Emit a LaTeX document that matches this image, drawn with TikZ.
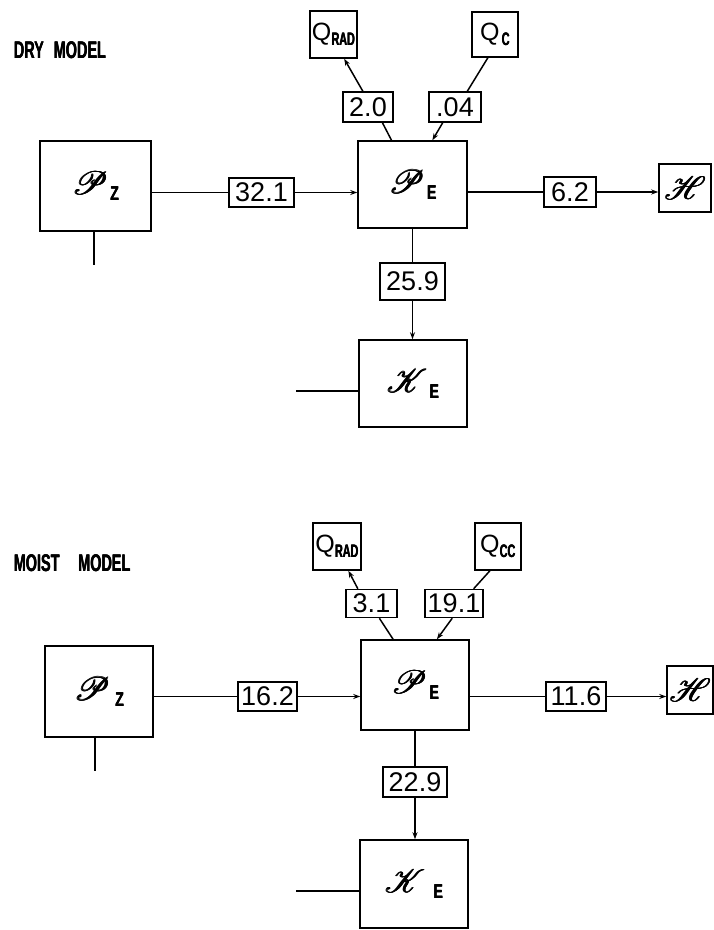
\documentclass[tikz,border=0pt]{standalone}
\usepackage{fontspec}
\setmainfont{Liberation Sans}
\usepackage{mathrsfs}
\usetikzlibrary{calc,arrows.meta}
\newcommand{\fb}[1]{\rlap{#1}\hspace{0.4pt}\rlap{#1}\hspace{0.4pt}\rlap{\raisebox{0.4pt}{#1}}#1}
\newcommand{\fbs}[1]{\rlap{#1}\hspace{0.4pt}\rlap{#1}\hspace{0.4pt}#1}
\newcommand{\mysub}[1]{\hspace{2pt}\raisebox{-6pt}{\scalebox{0.7}[1]{\fontsize{20}{20}\selectfont\bfseries\fbs{#1}}}}
\newcommand{\qsub}[1]{\raisebox{-5pt}{\scalebox{0.6}[1]{\fontsize{18}{18}\selectfont\bfseries\fbs{#1}}}}
\newcommand{\myscr}[1]{\scalebox{1.3}{\fontsize{24.88}{25}\selectfont\fb{$\mathscr{#1}$}}}
\newcommand{\myQ}{{\fontsize{25}{25}\selectfont Q}}
\begin{document}
\begin{tikzpicture}[x=1pt,y=-1pt,line width=1.5pt,
  >={Stealth[length=7pt,width=5pt]},
  bx/.style 2 args={draw,line width=1.5pt,inner sep=0pt,minimum width=#1,minimum height=#2},
  num/.style={font=\fontsize{27}{27}\selectfont},
  ttl/.style={anchor=west,inner sep=0pt}]
\useasboundingbox (0,0) rectangle (714,930);
% ---------------- DRY MODEL ----------------
\node[ttl] (t1) at (13,50.5) {\scalebox{0.6}[1]{\fontsize{24}{24}\selectfont\bfseries\fbs{DRY\hspace{0.7em}MODEL}}};
\node[bx={47}{47}] (QRAD1) at (333.5,34.5) {\myQ\qsub{RAD}};
\node[bx={46}{45}] (QC1) at (495,34.5) {\myQ\hspace{2pt}\qsub{C}};
\node[bx={50}{30},num] (n20) at (368,107) {2.0};
\node[bx={52}{30},num] (n04) at (455,107) {.04};
\node[bx={109}{87}] (PE1) at (412.5,184.5) {\myscr{P}\mysub{E}};
\node[bx={111}{90}] (PZ1) at (95.5,186) {\myscr{P}\mysub{Z}};
\node[bx={65}{29},num] (n321) at (261.5,192.5) {32.1};
\node[bx={52}{30},num] (n62) at (570,192) {6.2};
\node[bx={52}{48}] (H1) at (685,188) {\myscr{H}};
\node[bx={65}{37},num] (n259) at (412.5,281.5) {25.9};
\node[bx={108}{87}] (KE1) at (413,383.5) {\myscr{K}\mysub{E}};
\coordinate (z1) at (94,265);
\coordinate (k1) at (296,391);
\draw ($(PE1.north west)!0.31!(PE1.north east)$) -- ($(n20.south west)!0.78!(n20.south east)$);
\draw[->] ($(n20.north west)!0.4!(n20.north east)$) -- ($(QRAD1.south west)!0.72!(QRAD1.south east)$);
\draw ($(QC1.south west)!0.35!(QC1.south east)$) -- ($(n04.north west)!0.73!(n04.north east)$);
\draw[->] ($(n04.south west)!0.27!(n04.south east)$) -- ($(PE1.north west)!0.68!(PE1.north east)$);
\draw (n321.west -| PZ1.east) -- (n321.west);
\draw[->] (n321.east) -- (n321.east -| PE1.west);
\draw (n62.west -| PE1.east) -- (n62.west);
\draw[->] (n62.east) -- (n62.east -| H1.west);
\draw (PE1.south -| n259.north) -- (n259.north);
\draw[->] (n259.south) -- (n259.south |- KE1.north);
\draw (z1 |- PZ1.south) -- (z1);
\draw (k1) -- (k1 -| KE1.west);
% ---------------- MOIST MODEL ----------------
\node[ttl] (t2) at (13,563.5) {\scalebox{0.6}[1]{\fontsize{24}{24}\selectfont\bfseries\fbs{MOIST\hspace{1.3em}MODEL}}};
\node[bx={48}{47}] (QRAD2) at (337,546.5) {\myQ\qsub{RAD}};
\node[bx={46}{47}] (QCC2) at (498,546.5) {\myQ\qsub{CC}};
\node[bx={51}{28},num] (n31) at (371.5,603.5) {3.1};
\node[bx={58}{28},num] (n191) at (454,603.5) {19.1};
\node[bx={108}{90}] (PE2) at (415,685) {\myscr{P}\mysub{E}};
\node[bx={108}{91}] (PZ2) at (99,691.5) {\myscr{P}\hspace{3pt}\mysub{Z}};
\node[bx={59}{29},num] (n162) at (267.5,696.5) {16.2};
\node[bx={60}{29},num] (n116) at (576,696.5) {11.6};
\node[bx={46}{48}] (H2) at (690,690) {\myscr{H}};
\node[bx={64}{30},num] (n229) at (415,782) {22.9};
\node[bx={108}{88}] (KE2) at (414,884) {\myscr{K}\hspace{6pt}\mysub{E}};
\coordinate (z2) at (95,771);
\coordinate (k2) at (296,891);
\draw ($(PE2.north west)!0.30!(PE2.north east)$) -- ($(n31.south west)!0.65!(n31.south east)$);
\draw[->] ($(n31.north west)!0.24!(n31.north east)$) -- ($(QRAD2.south west)!0.73!(QRAD2.south east)$);
\draw ($(QCC2.south west)!0.33!(QCC2.south east)$) -- ($(n191.north west)!0.83!(n191.north east)$);
\draw[->] ($(n191.south west)!0.47!(n191.south east)$) -- ($(PE2.north west)!0.70!(PE2.north east)$);
\draw (n162.west -| PZ2.east) -- (n162.west);
\draw[->] (n162.east) -- (n162.east -| PE2.west);
\draw (n116.west -| PE2.east) -- (n116.west);
\draw[->] (n116.east) -- (n116.east -| H2.west);
\draw (PE2.south -| n229.north) -- (n229.north);
\draw[->] (n229.south) -- (n229.south |- KE2.north);
\draw (z2 |- PZ2.south) -- (z2);
\draw (k2) -- (k2 -| KE2.west);
\end{tikzpicture}
\end{document}
